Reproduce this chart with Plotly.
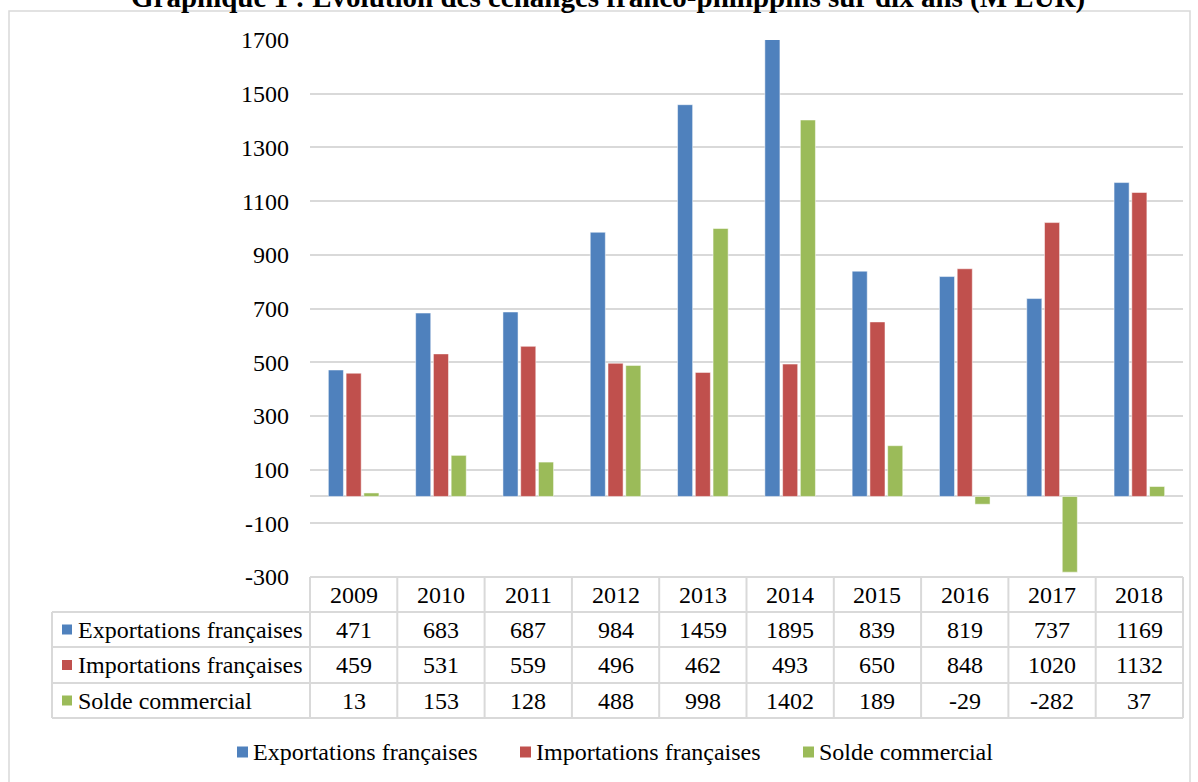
import plotly.graph_objects as go

years = ["2009", "2010", "2011", "2012", "2013", "2014", "2015", "2016", "2017", "2018"]
exportations = [471, 683, 687, 984, 1459, 1895, 839, 819, 737, 1169]
importations = [459, 531, 559, 496, 462, 493, 650, 848, 1020, 1132]
solde = [13, 153, 128, 488, 998, 1402, 189, -29, -282, 37]

series_names = ["Exportations françaises", "Importations françaises", "Solde commercial"]
series_values = [exportations, importations, solde]
colors = ["#4F81BD", "#C0504D", "#9BBB59"]

y_ticks = [-300, -100, 100, 300, 500, 700, 900, 1100, 1300, 1500, 1700]

title_text = "Graphique 1 : Évolution des échanges franco-philippins sur dix ans (M EUR)"

FONT = "Liberation Serif"
FS = 24
W, H = 1198, 782
PL, PR, PT, PB = 310, 1183, 40, 577  # plot area in pixels

def px_x(px):
    return (px - PL) / (PR - PL)

def px_y(py):
    return (PB - py) / (PB - PT)

fig = go.Figure()
for name, vals, col in zip(series_names, series_values, colors):
    fig.add_trace(go.Bar(
        x=years, y=vals, name=name, showlegend=False,
        marker=dict(color=col, line=dict(color="rgba(255,255,255,0.5)", width=1)),
    ))

GRID = "#D9D9D9"
shapes = []
annotations = []

# outer frame
shapes.append(dict(type="rect", xref="paper", yref="paper",
                   x0=px_x(9), x1=px_x(1190), y0=px_y(800), y1=px_y(11),
                   line=dict(color=GRID, width=1.5), fillcolor="rgba(0,0,0,0)", layer="below"))

# table geometry
row_lines = [577, 612, 647, 683, 718]
n = len(years)
shapes.append(dict(type="line", xref="paper", yref="paper", x0=0, x1=1,
                   y0=px_y(row_lines[0]), y1=px_y(row_lines[0]), line=dict(color=GRID, width=2)))
for ry in row_lines[1:]:
    shapes.append(dict(type="line", xref="paper", yref="paper", x0=px_x(52), x1=1,
                       y0=px_y(ry), y1=px_y(ry), line=dict(color=GRID, width=2)))
for k in range(n + 1):
    shapes.append(dict(type="line", xref="paper", yref="paper", x0=k / n, x1=k / n,
                       y0=px_y(row_lines[0]), y1=px_y(row_lines[-1]), line=dict(color=GRID, width=2)))
shapes.append(dict(type="line", xref="paper", yref="paper", x0=px_x(52), x1=px_x(52),
                   y0=px_y(row_lines[1]), y1=px_y(row_lines[-1]), line=dict(color=GRID, width=2)))

# header years
hy = (row_lines[0] + row_lines[1]) / 2
for i, yr in enumerate(years):
    annotations.append(dict(x=i, y=px_y(hy), xref="x", yref="paper", text=yr, showarrow=False,
                            xanchor="center", yanchor="middle", font=dict(family=FONT, size=FS, color="black")))

# rows
for r, (name, vals, col) in enumerate(zip(series_names, series_values, colors)):
    cy = (row_lines[r + 1] + row_lines[r + 2]) / 2
    shapes.append(dict(type="rect", xref="paper", yref="paper",
                       x0=px_x(62), x1=px_x(72), y0=px_y(cy + 5), y1=px_y(cy - 5),
                       fillcolor=col, line=dict(width=0)))
    annotations.append(dict(x=px_x(76), y=px_y(cy), xref="paper", yref="paper", text=name, showarrow=False,
                            xanchor="left", yanchor="middle", font=dict(family=FONT, size=FS, color="black")))
    for i, v in enumerate(vals):
        annotations.append(dict(x=i, y=px_y(cy), xref="x", yref="paper", text=str(v), showarrow=False,
                                xanchor="center", yanchor="middle", font=dict(family=FONT, size=FS, color="black")))

# legend (bottom)
legend_x = [237, 520, 803]
ly = 752
for name, col, lx in zip(series_names, colors, legend_x):
    shapes.append(dict(type="rect", xref="paper", yref="paper",
                       x0=px_x(lx), x1=px_x(lx + 11), y0=px_y(ly + 5.5), y1=px_y(ly - 5.5),
                       fillcolor=col, line=dict(width=0)))
    annotations.append(dict(x=px_x(lx + 14), y=px_y(ly), xref="paper", yref="paper", text=name, showarrow=False,
                            xanchor="left", yanchor="middle", font=dict(family=FONT, size=FS, color="black")))

# title (partially cut at top, as in the reference)
annotations.append(dict(x=px_x(608), y=px_y(-2), xref="paper", yref="paper", text="<b>" + title_text + "</b>",
                        showarrow=False, xanchor="center", yanchor="middle",
                        font=dict(family=FONT, size=29, color="black")))

fig.update_layout(
    width=W, height=H,
    margin=dict(l=PL, r=W - PR, t=PT, b=H - PB, pad=0),
    paper_bgcolor="white", plot_bgcolor="white",
    barmode="group", bargap=0.39, bargroupgap=0.15,
    font=dict(family=FONT, size=FS, color="black"),
    showlegend=False,
    xaxis=dict(type="category", range=[-0.5, n - 0.5], autorange=False, showticklabels=False,
               showgrid=False, zeroline=False, showline=False, ticks=""),
    yaxis=dict(range=[-300, 1700], autorange=False, tickvals=y_ticks, ticktext=[str(t) for t in y_ticks],
               showgrid=True, gridcolor=GRID, gridwidth=2,
               zeroline=True, zerolinecolor=GRID, zerolinewidth=2, showline=False, ticks="",
               ticklabelstandoff=20, tickfont=dict(family=FONT, size=FS, color="black")),
    shapes=shapes, annotations=annotations,
)

fig.write_html("out.html", config={"displayModeBar": False},
               post_script="document.body.style.margin='0';document.body.style.overflow='hidden';")
